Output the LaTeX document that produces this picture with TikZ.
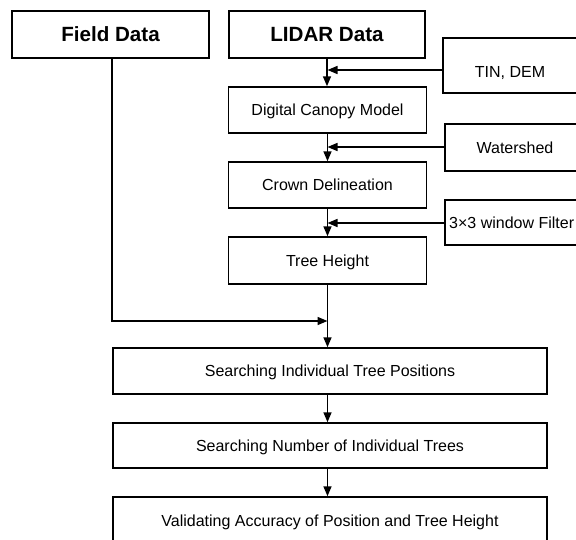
\documentclass[tikz,border=0pt]{standalone}
\usepackage{fontspec}
\setmainfont{Liberation Sans}
\usetikzlibrary{arrows.meta}
\begin{document}
\begin{tikzpicture}[x=1pt,y=-1pt,
  box/.style={draw=black,line width=1.5pt,rectangle,inner sep=0pt,font=\fontsize{16}{19}\selectfont,text height=11.5pt,text depth=0pt},
  bigbox/.style={box,font=\bfseries\fontsize{20.6}{24}\selectfont,text height=14.8pt},
  txt/.style={inner sep=0pt,font=\fontsize{16}{19}\selectfont,text height=11.5pt,text depth=0pt},
  arr/.style={line width=1.5pt,-{Triangle[length=10pt,width=8pt]}}]
\useasboundingbox (0,0) rectangle (576,539);
\clip (0,0) rectangle (576,539);
% boxes
\node[bigbox,minimum width=197pt,minimum height=47pt] (field) at (110.5,34.5) {Field Data};
\node[bigbox,minimum width=196pt,minimum height=47pt] (lidar) at (327,34.5) {LIDAR Data};
\node[box,minimum width=140pt,minimum height=55pt] (tin) at (513,65.5) {};
\node[box,minimum width=198pt,minimum height=46pt] (dcm) at (327.5,110) {Digital Canopy Model};
\node[box,minimum width=140pt,minimum height=47pt] (water) at (515,147.5) {};
\node[box,minimum width=198pt,minimum height=46pt] (crown) at (327.5,185) {Crown Delineation};
\node[box,minimum width=160pt,minimum height=45pt] (filt) at (525,222.5) {};
\node[box,minimum width=198pt,minimum height=47pt] (th) at (327.5,260.5) {Tree Height};
\node[box,minimum width=434pt,minimum height=46pt] (sitp) at (330,371) {Searching Individual Tree Positions};
\node[box,minimum width=434pt,minimum height=45pt] (snit) at (330,445.5) {Searching Number of Individual Trees};
\node[box,minimum width=434pt,minimum height=50pt] (vapt) at (330,522) {};
% texts inside side boxes
\node[txt] (tintxt) at (510,72) {TIN, DEM};
\node[txt] (watertxt) at (515,148) {Watershed};
\node[txt,anchor=west] (filttxt) at (449,223) {3×3 window Filter};
\node[txt] (vapttxt) at (330,521) {Validating Accuracy of Position and Tree Height};
% coordinates
\coordinate (merge) at (327.5,321);
% connectors
\draw[arr] (lidar.south) -- (lidar.south |- dcm.north);
\draw[arr] (tin.west |- 0,70) -- (327.5,70);
\draw[arr] (dcm.south) -- (crown.north);
\draw[arr] (water.west |- 0,147) -- (327.5,147);
\draw[arr] (crown.south) -- (th.north);
\draw[arr] (filt.west |- 0,223) -- (327.5,223);
\draw[arr] (field.south -| 112,0) |- (merge);
\draw[arr] (th.south) -- (th.south |- sitp.north);
\draw[arr] (sitp.south -| th.south) -- (th.south |- snit.north);
\draw[arr] (snit.south -| th.south) -- (th.south |- vapt.north);
\end{tikzpicture}
\end{document}
